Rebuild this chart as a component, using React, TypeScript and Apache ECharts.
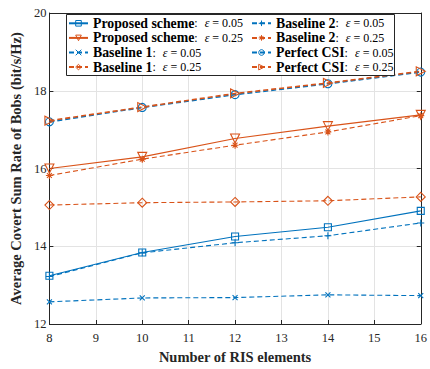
import React, { useEffect, useRef } from "react";
import * as echarts from "echarts";

const xValues = [8, 10, 12, 14, 16];
const proposed005 = [13.24, 13.84, 14.25, 14.49, 14.91];
const proposed025 = [16.0, 16.3, 16.77, 17.09, 17.38];
const baseline1005 = [12.57, 12.67, 12.68, 12.75, 12.73];
const baseline1025 = [15.06, 15.12, 15.14, 15.17, 15.27];
const baseline2005 = [13.22, 13.83, 14.09, 14.27, 14.6];
const baseline2025 = [15.82, 16.24, 16.6, 16.94, 17.36];
const perfect005 = [17.2, 17.57, 17.9, 18.18, 18.48];
const perfect025 = [17.23, 17.58, 17.93, 18.2, 18.5];

const BLUE = "#0072BD";
const ORANGE = "#D95319";
const FONT = "'Liberation Serif', 'DejaVu Serif', serif";

const X_PATH = "path://M0,0 L10,10 M10,0 L0,10";
const PLUS_PATH = "path://M5,0 L5,10 M0,5 L10,5";
const STAR_PATH = "path://M5,0 L5,10 M0,5 L10,5 M1.5,1.5 L8.5,8.5 M8.5,1.5 L1.5,8.5";

type S = {
  name: string;
  data: number[];
  color: string;
  dashed: boolean;
  symbol: string;
  size: number;
  rotate?: number;
  width?: number;
};

const seriesDefs: S[] = [
  { name: "Proposed scheme: ε = 0.05", data: proposed005, color: BLUE, dashed: false, symbol: "rect", size: 7 },
  { name: "Proposed scheme: ε = 0.25", data: proposed025, color: ORANGE, dashed: false, symbol: "triangle", size: 9, rotate: 180 },
  { name: "Baseline 1: ε = 0.05", data: baseline1005, color: BLUE, dashed: true, symbol: X_PATH, size: 5 },
  { name: "Baseline 1: ε = 0.25", data: baseline1025, color: ORANGE, dashed: true, symbol: "diamond", size: 9 },
  { name: "Baseline 2: ε = 0.05", data: baseline2005, color: BLUE, dashed: true, symbol: PLUS_PATH, size: 7 },
  { name: "Baseline 2: ε = 0.25", data: baseline2025, color: ORANGE, dashed: true, symbol: STAR_PATH, size: 7 },
  { name: "Perfect CSI: ε = 0.05", data: perfect005, color: BLUE, dashed: true, symbol: "circle", size: 8, width: 1.6 },
  { name: "Perfect CSI: ε = 0.25", data: perfect025, color: ORANGE, dashed: true, symbol: "triangle", size: 9, rotate: -90, width: 1.6 },
];

const legendFormatter = (name: string) => {
  const idx = name.indexOf(": ");
  const label = name.slice(0, idx);
  const val = name.split("= ")[1];
  return `{b|${label}}{n|:}{i|ε}{e|=}{n|${val}}`;
};

const legendText = {
  fontFamily: FONT,
  fontSize: 13.8,
  color: "#000",
  rich: {
    b: { fontFamily: FONT, fontSize: 13.8, fontWeight: "bold", color: "#000" },
    n: { fontFamily: FONT, fontSize: 12, color: "#000" },
    i: { fontFamily: FONT, fontSize: 12, fontStyle: "italic", color: "#000", padding: [0, 0, 0, 7] },
    e: { fontFamily: FONT, fontSize: 12, color: "#000", padding: [0, 3, 0, 3] },
  },
};

export default function App() {
  const ref = useRef<HTMLDivElement>(null);
  useEffect(() => {
    if (!ref.current) return;
    const chart = echarts.init(ref.current, null, { renderer: "svg" });
    const axisLineStyle = { color: "#262626", width: 1 };
    const series = seriesDefs.map((s) => ({
      name: s.name,
      type: "line",
      data: xValues.map((x, i) => [x, s.data[i]]),
      symbol: s.symbol,
      symbolSize: s.size,
      symbolRotate: s.rotate ?? 0,
      symbolKeepAspect: true,
      showAllSymbol: true,
      lineStyle: { color: s.color, width: s.width ?? 1.1, type: s.dashed ? [5, 3] : "solid" },
      itemStyle: { color: "none", borderColor: s.color, borderWidth: 1.1 },
      emphasis: { disabled: true },
      z: 3,
    }));
    const leftNames = [seriesDefs[0].name, seriesDefs[1].name, seriesDefs[2].name, seriesDefs[3].name];
    const rightNames = [seriesDefs[4].name, seriesDefs[5].name, seriesDefs[6].name, seriesDefs[7].name];
    const legendCommon = {
      orient: "vertical",
      itemWidth: 19,
      itemHeight: 7,
      itemGap: 0,
      selectedMode: false,
      formatter: legendFormatter,
      textStyle: { ...legendText, lineHeight: 14.6, height: 14.6 },
      itemStyle: { color: "transparent", borderWidth: 1 },
      z: 10,
      padding: 0,
    };
    chart.setOption({
      animation: false,
      backgroundColor: "#fff",
      grid: { left: 42, right: 7, top: 13, bottom: 38, containLabel: false },
      legend: [
        { ...legendCommon, data: leftNames, left: 68, top: 16 },
        { ...legendCommon, data: rightNames, left: 251, top: 16 },
      ],
      graphic: [
        {
          type: "rect",
          left: 66,
          top: 14,
          shape: { width: 328, height: 61 },
          style: { fill: "#fff", stroke: "#262626", lineWidth: 1 },
          z: 5,
        },
      ],
      xAxis: [
        {
          type: "value",
          min: 8,
          max: 16,
          interval: 1,
          name: "Number of RIS elements",
          nameLocation: "middle",
          nameGap: 25,
          nameTextStyle: { fontFamily: FONT, fontSize: 14.5, fontWeight: "bold", color: "#262626" },
          axisLine: { show: true, lineStyle: axisLineStyle },
          axisTick: { show: true, inside: true, length: 4, lineStyle: axisLineStyle },
          axisLabel: { fontFamily: FONT, fontSize: 12.5, color: "#262626", margin: 7 },
          splitLine: { show: true, lineStyle: { color: "#e3e3e3", width: 1 } },
        },
        {
          type: "value",
          position: "top",
          min: 8,
          max: 16,
          interval: 1,
          axisLine: { show: true, lineStyle: axisLineStyle },
          axisTick: { show: true, inside: true, length: 4, lineStyle: axisLineStyle },
          axisLabel: { show: false },
          splitLine: { show: false },
        },
      ],
      yAxis: [
        {
          type: "value",
          min: 12,
          max: 20,
          interval: 2,
          name: "Average Covert Sum Rate of Bobs (bit/s/Hz)",
          nameLocation: "middle",
          nameGap: 21,
          nameTextStyle: { fontFamily: FONT, fontSize: 14.5, fontWeight: "bold", color: "#262626" },
          axisLine: { show: true, lineStyle: axisLineStyle },
          axisTick: { show: true, inside: true, length: 4, lineStyle: axisLineStyle },
          axisLabel: { fontFamily: FONT, fontSize: 12.5, color: "#262626", margin: 3 },
          splitLine: { show: true, lineStyle: { color: "#e3e3e3", width: 1 } },
        },
        {
          type: "value",
          position: "right",
          min: 12,
          max: 20,
          interval: 2,
          axisLine: { show: true, lineStyle: axisLineStyle },
          axisTick: { show: true, inside: true, length: 4, lineStyle: axisLineStyle },
          axisLabel: { show: false },
          splitLine: { show: false },
        },
      ],
      series,
    });
    return () => chart.dispose();
  }, []);
  return <div ref={ref} style={{ width: 430, height: 369, position: "absolute", left: 0, top: 0 }} />;
}
